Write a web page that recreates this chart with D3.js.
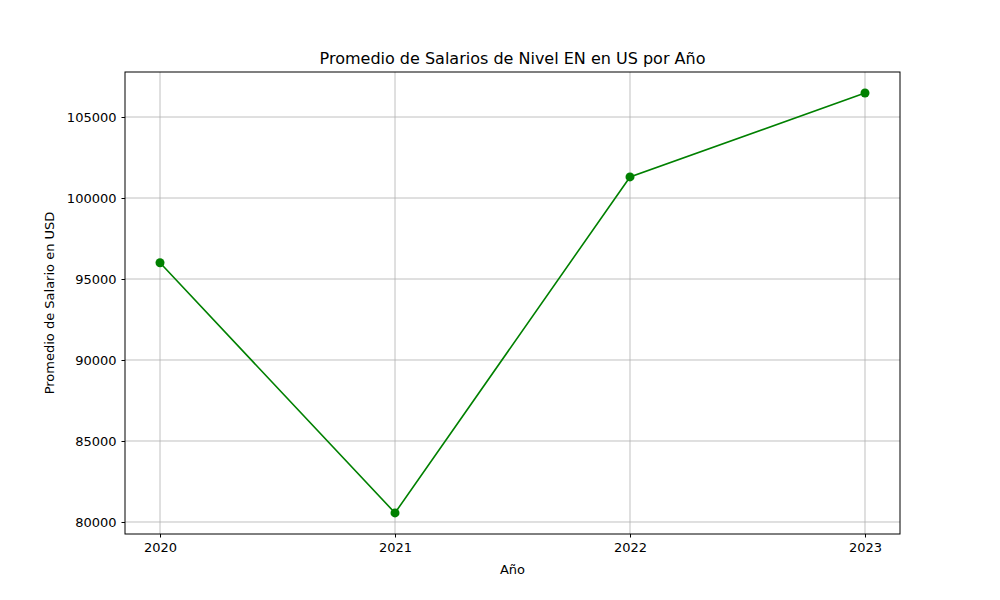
<!DOCTYPE html>
<html><head><meta charset="utf-8">
<script src="https://cdn.jsdelivr.net/npm/d3@7"></script>
<style>body{margin:0;background:#fff}text{font-family:"DejaVu Sans",sans-serif}</style>
</head><body><svg id="c" width="1000" height="600"></svg>
<script>
const years = [2020, 2021, 2022, 2023];
const salaries = [96000, 80560, 101300, 106480];
const yTicks = [80000, 85000, 90000, 95000, 100000, 105000];

const svg = d3.select("#c");
const L=125,R=900,T=72,B=534;
const x = d3.scaleLinear().domain([2019.851, 2023.149]).range([L,R]);
const y = d3.scaleLinear().domain([79259, 107778]).range([B,T]);

const g = svg.append("g");
g.selectAll(".gx").data(years).enter().append("line")
 .attr("x1",d=>x(d)).attr("x2",d=>x(d)).attr("y1",T).attr("y2",B).attr("stroke","#b0b0b0").attr("stroke-width",0.8);
g.selectAll(".gy").data(yTicks).enter().append("line")
 .attr("y1",d=>y(d)).attr("y2",d=>y(d)).attr("x1",L).attr("x2",R).attr("stroke","#b0b0b0").attr("stroke-width",0.8);

const xa = svg.append("g").attr("transform",`translate(0,${B})`)
 .call(d3.axisBottom(x).tickValues(years).tickFormat(d3.format("d")).tickSize(3.5).tickPadding(5));
const ya = svg.append("g").attr("transform",`translate(${L},0)`)
 .call(d3.axisLeft(y).tickValues(yTicks).tickFormat(d3.format("d")).tickSize(3.5).tickPadding(5));
[xa,ya].forEach(a=>{a.select(".domain").remove();a.selectAll("text").attr("font-size",13).attr("fill","#000").style("font-family","DejaVu Sans");a.selectAll("line").attr("stroke","#000");});

svg.append("rect").attr("x",L).attr("y",T).attr("width",R-L).attr("height",B-T).attr("fill","none").attr("stroke","#000").attr("stroke-width",1);

svg.append("path").datum(years.map((d,i)=>[d,salaries[i]]))
 .attr("d",d3.line().x(d=>x(d[0])).y(d=>y(d[1]))).attr("fill","none").attr("stroke","green").attr("stroke-width",1.6);
svg.selectAll(".pt").data(years).enter().append("circle")
 .attr("cx",d=>x(d)).attr("cy",(d,i)=>y(salaries[i])).attr("r",4.5).attr("fill","green");

svg.append("text").attr("x",(L+R)/2).attr("y",64).attr("text-anchor","middle").attr("font-size",16).text("Promedio de Salarios de Nivel EN en US por Año");
svg.append("text").attr("x",(L+R)/2).attr("y",574).attr("text-anchor","middle").attr("font-size",13).text("Año");
svg.append("text").attr("transform",`translate(54,${(T+B)/2}) rotate(-90)`).attr("text-anchor","middle").attr("font-size",13).text("Promedio de Salario en USD");
</script></body></html>
